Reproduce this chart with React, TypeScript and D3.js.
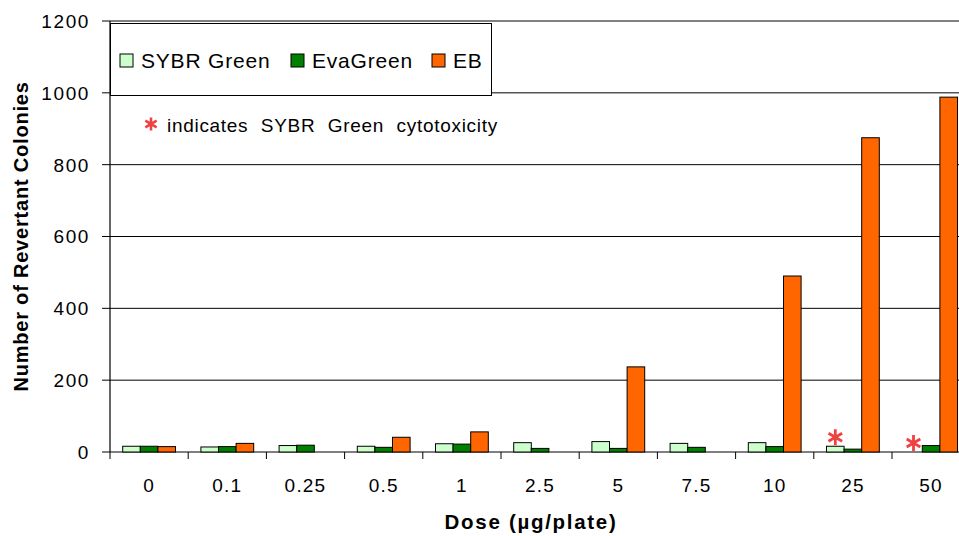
import React from 'react';
import * as d3 from 'd3';

// dose categories (µg/plate)
const doses = ['0', '0.1', '0.25', '0.5', '1', '2.5', '5', '7.5', '10', '25', '50'];
const sybrGreen = [16, 14, 18, 16, 23, 26, 29, 24, 26, 16, 0];
const evaGreen = [16, 15, 19, 13, 22, 10, 10, 13, 15, 8, 18];
const ethidium = [15, 24, 0, 41, 56, 0, 237, 0, 490, 875, 988];
// doses where SYBR Green was cytotoxic
const cytotoxicDoses = ['25', '50'];
const yTicks = [0, 200, 400, 600, 800, 1000, 1200];

const SERIES = [
  { key: 'SYBR Green', values: sybrGreen, color: '#CCFFCC' },
  { key: 'EvaGreen', values: evaGreen, color: '#008000' },
  { key: 'EB', values: ethidium, color: '#FF6600' },
];

const W = 959;
const H = 536;
const LEFT = 110;
const BAND = 78.2;
const FONT = '"Liberation Sans", Arial, sans-serif';

const App: React.FC = () => {
  const x = d3.scaleBand<string>().domain(doses).range([LEFT, LEFT + BAND * doses.length]);
  const inner = d3
    .scaleBand<string>()
    .domain(SERIES.map((s) => s.key))
    .range([12.7, BAND - 12.7]);
  const y = d3.scaleLinear().domain([0, 1200]).range([452, 21]);
  const right = LEFT + BAND * doses.length;
  const star = d3.symbol().type(d3.symbolAsterisk).size(175);
  const starSmall = d3.symbol().type(d3.symbolAsterisk).size(120);

  return (
    <svg
      width={W}
      height={H}
      style={{ position: 'absolute', top: 0, left: 0, background: '#fff' }}
      fontFamily={FONT}
    >
      {/* gridlines */}
      {yTicks.map((t) => (
        <g key={t}>
          <line x1={LEFT - 8} x2={right} y1={y(t)} y2={y(t)} stroke="#000" strokeWidth={1} />
          <text
            x={90}
            y={y(t)}
            dy="0.36em"
            textAnchor="end"
            fontSize={19}
            letterSpacing={1.6}
            fill="#000"
          >
            {t}
          </text>
        </g>
      ))}
      <line x1={LEFT} x2={LEFT} y1={y(1200)} y2={y(0)} stroke="#000" strokeWidth={1.2} />

      {/* x ticks */}
      {doses.map((d) => (
        <line key={'t' + d} x1={x(d)!} x2={x(d)!} y1={y(0)} y2={y(0) + 7} stroke="#000" />
      ))}
      {doses.map((d) => (
        <text
          key={'l' + d}
          x={x(d)! + BAND / 2}
          y={492}
          textAnchor="middle"
          fontSize={19}
          letterSpacing={1.2}
          fill="#000"
        >
          {d}
        </text>
      ))}

      {/* bars */}
      {SERIES.map((s) =>
        doses.map((d, i) =>
          s.values[i] > 0 ? (
            <rect
              key={s.key + d}
              x={x(d)! + inner(s.key)!}
              y={y(s.values[i])}
              width={inner.bandwidth()}
              height={y(0) - y(s.values[i])}
              fill={s.color}
              stroke="#000"
              strokeWidth={1}
            />
          ) : null,
        ),
      )}

      {/* cytotoxicity markers */}
      {cytotoxicDoses.map((d) => {
        const i = doses.indexOf(d);
        const cx = x(d)! + inner('SYBR Green')! + inner.bandwidth() / 2;
        const cy = y(sybrGreen[i]) - 9;
        return (
          <path
            key={'s' + d}
            d={star()!}
            transform={`translate(${cx},${cy})`}
            stroke="#F04040"
            strokeWidth={2.8}
            fill="none"
          />
        );
      })}

      {/* legend */}
      <rect x={110.5} y={23.5} width={381} height={72} fill="#fff" stroke="#000" strokeWidth={1} />
      {SERIES.map((s, i) => {
        const lx = [120, 291, 432][i];
        return (
          <g key={'lg' + s.key}>
            <rect x={lx} y={54} width={13} height={13} fill={s.color} stroke="#000" strokeWidth={1} />
            <text x={lx + 21} y={68} fontSize={21} letterSpacing={0.8} fill="#000">
              {s.key}
            </text>
          </g>
        );
      })}

      {/* note */}
      <path d={starSmall()!} transform="translate(151,124)" stroke="#F04040" strokeWidth={2.6} fill="none" />
      <text x={167} y={132} fontSize={19} letterSpacing={0.7} wordSpacing={6.5} fill="#000">
        indicates SYBR Green cytotoxicity
      </text>

      {/* axis titles */}
      <text
        transform="translate(28,236.5) rotate(-90)"
        textAnchor="middle"
        fontSize={20}
        fontWeight="bold"
        letterSpacing={0.8}
        fill="#000"
      >
        Number of Revertant Colonies
      </text>
      <text x={531} y={529} textAnchor="middle" fontSize={20.5} fontWeight="bold" letterSpacing={1.7} fill="#000">
        Dose (µg/plate)
      </text>
    </svg>
  );
};

export default App;
